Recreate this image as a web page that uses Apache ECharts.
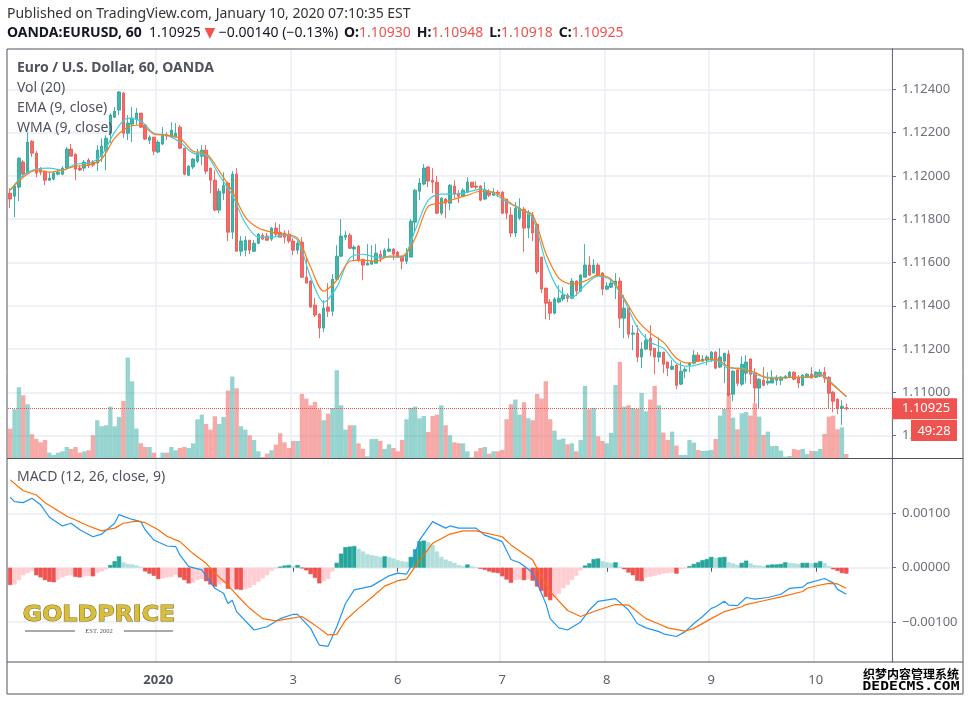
<!DOCTYPE html>
<html>
<head>
<meta charset="utf-8">
<title>EUR/USD 60</title>
<style>
    html, body { margin: 0; padding: 0; background: #fff; }
    #chart-container { width: 971px; height: 702px; }
</style>
<script src="https://cdn.jsdelivr.net/npm/echarts@6/dist/echarts.min.js"></script>
</head>
<body>
<div id="chart-container"></div>
<script>
// hourly bars, [open, close, low, high]
var candles = [
    [1.11920,1.11893,1.11851,1.11943],[1.11906,1.11953,1.11810,1.11957],[1.11948,1.12082,1.11883,1.12085],[1.12064,1.12008,1.11994,1.12073],[1.12013,1.12156,1.12010,1.12202],
    [1.12160,1.12105,1.12087,1.12165],[1.12105,1.12013,1.11994,1.12114],[1.12031,1.12017,1.12003,1.12041],[1.12022,1.11980,1.11957,1.12024],[1.11980,1.11990,1.11976,1.12017],
    [1.11985,1.12013,1.11980,1.12017],[1.12008,1.12017,1.12003,1.12031],[1.12008,1.12036,1.12003,1.12045],[1.12036,1.12124,1.12027,1.12133],[1.12124,1.12091,1.12091,1.12147],
    [1.12100,1.12031,1.11980,1.12105],[1.12036,1.12027,1.12022,1.12050],[1.12036,1.12064,1.12022,1.12073],[1.12073,1.12050,1.12036,1.12082],[1.12064,1.12050,1.12041,1.12073],
    [1.12059,1.12119,1.12022,1.12142],[1.12091,1.12138,1.12064,1.12174],[1.12119,1.12174,1.12027,1.12188],[1.12197,1.12281,1.12151,1.12290],[1.12271,1.12299,1.12267,1.12318],
    [1.12304,1.12387,1.12281,1.12392],[1.12382,1.12197,1.12174,1.12387],[1.12197,1.12244,1.12165,1.12281],[1.12239,1.12267,1.12156,1.12318],[1.12262,1.12290,1.12235,1.12313],
    [1.12290,1.12225,1.12221,1.12290],[1.12235,1.12170,1.12165,1.12235],[1.12165,1.12179,1.12147,1.12188],[1.12179,1.12114,1.12096,1.12179],[1.12110,1.12156,1.12105,1.12165],
    [1.12147,1.12188,1.12142,1.12225],[1.12188,1.12184,1.12165,1.12202],[1.12179,1.12211,1.12179,1.12248],[1.12179,1.12197,1.12179,1.12244],[1.12225,1.12128,1.12124,1.12235],
    [1.12128,1.12008,1.12003,1.12128],[1.12003,1.12045,1.11999,1.12050],[1.12041,1.12078,1.12031,1.12082],[1.12068,1.12105,1.12059,1.12124],[1.12091,1.12119,1.12050,1.12142],
    [1.12119,1.12022,1.12008,1.12142],[1.12036,1.11980,1.11920,1.12036],[1.11980,1.11842,1.11837,1.12027],[1.11842,1.11929,1.11828,1.11943],[1.11920,1.11957,1.11888,1.12017],
    [1.11967,1.11740,1.11699,1.11972],[1.11740,1.12008,1.11708,1.12022],[1.12008,1.11652,1.11652,1.12036],[1.11652,1.11699,1.11629,1.11722],[1.11657,1.11703,1.11629,1.11722],
    [1.11703,1.11657,1.11638,1.11703],[1.11652,1.11689,1.11648,1.11703],[1.11689,1.11731,1.11685,1.11736],[1.11726,1.11708,1.11703,1.11736],[1.11722,1.11703,1.11699,1.11736],
    [1.11708,1.11759,1.11699,1.11763],[1.11759,1.11731,1.11717,1.11786],[1.11740,1.11717,1.11717,1.11777],[1.11736,1.11717,1.11689,1.11749],[1.11731,1.11699,1.11689,1.11749],
    [1.11699,1.11657,1.11634,1.11712],[1.11657,1.11689,1.11638,1.11699],[1.11694,1.11532,1.11528,1.11717],[1.11532,1.11505,1.11505,1.11625],[1.11514,1.11394,1.11390,1.11518],
    [1.11403,1.11357,1.11348,1.11436],[1.11361,1.11297,1.11250,1.11366],[1.11297,1.11389,1.11278,1.11426],[1.11394,1.11375,1.11348,1.11505],[1.11375,1.11523,1.11352,1.11546],
    [1.11523,1.11629,1.11518,1.11680],[1.11629,1.11722,1.11625,1.11800],[1.11717,1.11726,1.11703,1.11745],[1.11726,1.11666,1.11662,1.11736],[1.11662,1.11671,1.11611,1.11680],
    [1.11675,1.11611,1.11602,1.11680],[1.11615,1.11588,1.11518,1.11615],[1.11588,1.11597,1.11588,1.11685],[1.11592,1.11606,1.11592,1.11680],[1.11597,1.11643,1.11597,1.11685],
    [1.11638,1.11620,1.11602,1.11657],[1.11625,1.11657,1.11620,1.11666],[1.11652,1.11662,1.11648,1.11712],[1.11662,1.11638,1.11611,1.11666],[1.11648,1.11625,1.11620,1.11652],
    [1.11625,1.11606,1.11569,1.11629],[1.11606,1.11643,1.11592,1.11666],[1.11625,1.11791,1.11625,1.11800],[1.11786,1.11934,1.11736,1.11939],[1.11929,1.11967,1.11888,1.11990],
    [1.11962,1.12036,1.11957,1.12055],[1.12041,1.11976,1.11948,1.12045],[1.11980,1.11971,1.11920,1.12036],[1.11971,1.11828,1.11823,1.12000],[1.11828,1.11897,1.11819,1.11902],
    [1.11893,1.11874,1.11805,1.11897],[1.11874,1.11957,1.11842,1.11962],[1.11953,1.11916,1.11897,1.11980],[1.11920,1.11906,1.11874,1.11934],[1.11906,1.11934,1.11902,1.11943],
    [1.11925,1.11971,1.11920,1.11994],[1.11971,1.11948,1.11943,1.11971],[1.11953,1.11948,1.11939,1.11976],[1.11953,1.11888,1.11883,1.11957],[1.11893,1.11934,1.11888,1.11971],
    [1.11929,1.11911,1.11902,1.11939],[1.11911,1.11925,1.11906,1.11943],[1.11925,1.11920,1.11902,1.11934],[1.11925,1.11828,1.11823,1.11929],[1.11893,1.11828,1.11800,1.11893],
    [1.11819,1.11736,1.11717,1.11856],[1.11736,1.11851,1.11717,1.11879],[1.11805,1.11851,1.11796,1.11897],[1.11846,1.11759,1.11648,1.11856],[1.11759,1.11828,1.11712,1.11842],
    [1.11819,1.11736,1.11699,1.11833],[1.11777,1.11556,1.11546,1.11782],[1.11625,1.11477,1.11458,1.11625],[1.11482,1.11412,1.11338,1.11482],[1.11417,1.11366,1.11334,1.11431],
    [1.11366,1.11431,1.11361,1.11440],[1.11417,1.11435,1.11412,1.11495],[1.11431,1.11449,1.11421,1.11486],[1.11449,1.11435,1.11417,1.11458],[1.11435,1.11514,1.11431,1.11528],
    [1.11514,1.11468,1.11445,1.11518],[1.11468,1.11542,1.11463,1.11546],[1.11532,1.11588,1.11532,1.11685],[1.11588,1.11542,1.11537,1.11629],[1.11551,1.11588,1.11551,1.11615],
    [1.11588,1.11542,1.11532,1.11597],[1.11551,1.11477,1.11449,1.11556],[1.11477,1.11491,1.11472,1.11509],[1.11486,1.11505,1.11482,1.11523],[1.11495,1.11514,1.11431,1.11551],
    [1.11514,1.11343,1.11297,1.11532],[1.11343,1.11389,1.11250,1.11449],[1.11389,1.11269,1.11250,1.11389],[1.11269,1.11274,1.11195,1.11311],[1.11274,1.11163,1.11140,1.11311],
    [1.11163,1.11200,1.11112,1.11232],[1.11200,1.11241,1.11195,1.11269],[1.11250,1.11195,1.11167,1.11311],[1.11204,1.11163,1.11084,1.11204],[1.11163,1.11186,1.11140,1.11255],
    [1.11186,1.11130,1.11089,1.11186],[1.11140,1.11112,1.11075,1.11140],[1.11107,1.11121,1.11103,1.11149],[1.11126,1.11033,1.11015,1.11130],[1.11038,1.11098,1.11033,1.11140],
    [1.11098,1.11107,1.11066,1.11117],[1.11126,1.11135,1.11093,1.11140],[1.11135,1.11172,1.11130,1.11195],[1.11172,1.11144,1.11140,1.11186],[1.11144,1.11154,1.11140,1.11172],
    [1.11149,1.11163,1.11126,1.11172],[1.11149,1.11186,1.11140,1.11191],[1.11186,1.11112,1.11107,1.11191],[1.11117,1.11163,1.11112,1.11204],[1.11144,1.11181,1.11042,1.11181],
    [1.11177,1.10987,1.10982,1.11195],[1.10992,1.11098,1.10959,1.11103],[1.11103,1.11042,1.11029,1.11112],[1.11038,1.11130,1.11029,1.11167],[1.11089,1.11140,1.11042,1.11172],
    [1.11154,1.11084,1.11038,1.11158],[1.11089,1.11020,1.10950,1.11112],[1.11020,1.11061,1.10927,1.11066],[1.11056,1.11033,1.11029,1.11117],[1.11043,1.11052,1.11033,1.11093],
    [1.11043,1.11066,1.11043,1.11103],[1.11056,1.11066,1.11033,1.11080],[1.11056,1.11070,1.11033,1.11075],[1.11066,1.11075,1.11061,1.11080],[1.11070,1.11093,1.11066,1.11098],
    [1.11093,1.11061,1.11056,1.11098],[1.11070,1.11043,1.11020,1.11080],[1.11033,1.11080,1.11029,1.11084],[1.11070,1.11084,1.11066,1.11089],[1.11084,1.11066,1.11066,1.11117],
    [1.11070,1.11093,1.11066,1.11098],[1.11075,1.11093,1.11070,1.11107],[1.11093,1.11066,1.11043,1.11117],[1.11070,1.10996,1.10927,1.11075],[1.11001,1.10959,1.10908,1.11006],
    [1.10968,1.10927,1.10900,1.10973],[1.10927,1.10936,1.10850,1.10964],[1.10930,1.10925,1.10918,1.10948]
]
var volumes = [
    89,147,213,189,162,72,58,48,55,17,
    10,17,21,34,28,34,17,21,24,69,
    114,96,99,155,96,124,172,302,231,89,
    45,34,34,17,2,17,17,34,24,31,
    34,31,45,117,131,103,86,126,103,124,
    203,245,210,96,86,69,55,21,4,14,
    24,41,75,48,31,52,52,193,179,159,
    169,147,114,134,151,264,159,86,99,99,
    45,28,6,58,58,52,28,42,31,21,
    55,117,151,155,120,127,79,127,131,159,
    99,69,48,45,45,21,3,21,31,34,
    14,21,21,25,117,162,176,131,168,120,
    114,193,179,231,117,83,56,59,42,45,
    21,55,217,147,151,66,52,45,76,220,
    289,155,159,151,148,196,141,176,217,159,
    77,55,80,38,10,10,55,47,25,22,
    23,25,58,128,148,195,122,87,135,139,
    128,165,125,70,80,37,37,23,5,7,
    28,25,28,13,22,22,28,73,125,128,
    87,93,13
]
// moving averages were read every third bar
var maBars = []
for (var b = 0; b <= 192; b += 3) maBars.push(b)
var ema = [
    1.11934,1.11994,1.12027,1.12017,1.12027,1.12045,1.12050,1.12078,1.12174,1.12225,
    1.12235,1.12193,1.12188,1.12174,1.12114,1.12105,1.12022,1.11929,1.11810,1.11759,
    1.11740,1.11731,1.11712,1.11578,1.11468,1.11518,1.11606,1.11611,1.11606,1.11629,
    1.11629,1.11712,1.11860,1.11874,1.11893,1.11911,1.11929,1.11925,1.11888,1.11846,
    1.11819,1.11643,1.11528,1.11500,1.11514,1.11542,1.11523,1.11435,1.11334,1.11274,
    1.11232,1.11158,1.11135,1.11149,1.11154,1.11117,1.11107,1.11093,1.11066,1.11066,
    1.11070,1.11070,1.11080,1.11033,1.10982
]
var wma = [
    1.11934,1.12003,1.12031,1.12036,1.12027,1.12055,1.12059,1.12096,1.12202,1.12267,
    1.12253,1.12197,1.12188,1.12156,1.12105,1.12096,1.12003,1.11911,1.11782,1.11717,
    1.11717,1.11726,1.11703,1.11532,1.11417,1.11486,1.11620,1.11638,1.11625,1.11625,
    1.11625,1.11749,1.11888,1.11916,1.11916,1.11925,1.11939,1.11920,1.11879,1.11851,
    1.11805,1.11602,1.11472,1.11440,1.11495,1.11537,1.11518,1.11426,1.11301,1.11232,
    1.11204,1.11135,1.11121,1.11135,1.11149,1.11112,1.11112,1.11084,1.11070,1.11070,
    1.11070,1.11070,1.11084,1.11038,1.10978
]
// the MACD pane lines were read at their turning points
var macdBars = [
    0,1,3,5,7,9,12,14,16,19,
    21,24,25,28,30,31,33,36,38,39,
    41,44,47,49,50,51,52,56,59,62,
    65,66,69,71,73,75,77,79,83,87,
    89,91,92,94,97,100,101,103,107,109,
    113,115,117,119,120,123,124,126,128,131,
    133,135,139,142,144,146,149,150,153,155,
    157,159,161,162,164,165,167,169,171,174,
    177,179,182,183,187,189,190,192
]
var macdLine = [
    0.00130,0.00122,0.00120,0.00128,0.00116,0.00093,0.00077,0.00082,0.00070,0.00057,
    0.00062,0.00082,0.00098,0.00089,0.00085,0.00070,0.00051,0.00040,0.00039,0.00023,
    0.00002,-0.00004,-0.00038,-0.00047,-0.00066,-0.00060,-0.00081,-0.00115,-0.00109,-0.00094,
    -0.00086,-0.00086,-0.00112,-0.00143,-0.00145,-0.00109,-0.00066,-0.00041,-0.00034,-0.00015,
    -0.00010,-0.00012,0.00002,0.00051,0.00085,0.00073,0.00077,0.00073,0.00073,0.00060,
    0.00048,0.00015,0.00009,-0.00003,-0.00010,-0.00066,-0.00094,-0.00111,-0.00115,-0.00100,
    -0.00078,-0.00062,-0.00057,-0.00078,-0.00103,-0.00111,-0.00118,-0.00122,-0.00127,-0.00118,
    -0.00103,-0.00090,-0.00075,-0.00072,-0.00062,-0.00069,-0.00070,-0.00055,-0.00058,-0.00055,
    -0.00049,-0.00038,-0.00036,-0.00029,-0.00020,-0.00028,-0.00040,-0.00049
]
var signalBars = [
    0,3,6,8,11,13,15,18,21,24,
    26,29,31,34,36,39,42,45,47,50,
    52,55,58,61,64,67,70,73,75,77,
    80,83,86,89,91,93,97,101,104,107,
    113,115,120,121,124,128,131,135,139,142,
    146,149,151,155,157,161,164,168,169,173,
    177,182,183,186,188,190,192
]
var signalLine = [
    0.00162,0.00142,0.00134,0.00120,0.00105,0.00095,0.00088,0.00077,0.00068,0.00073,
    0.00082,0.00086,0.00083,0.00070,0.00058,0.00048,0.00026,0.00008,-0.00010,-0.00032,
    -0.00050,-0.00075,-0.00094,-0.00098,-0.00094,-0.00090,-0.00106,-0.00124,-0.00123,-0.00097,
    -0.00075,-0.00055,-0.00034,-0.00024,-0.00021,0.00002,0.00045,0.00062,0.00068,0.00068,
    0.00057,0.00042,0.00014,-0.00001,-0.00044,-0.00079,-0.00090,-0.00078,-0.00068,-0.00069,
    -0.00094,-0.00104,-0.00111,-0.00117,-0.00112,-0.00094,-0.00081,-0.00072,-0.00068,-0.00061,
    -0.00054,-0.00044,-0.00038,-0.00032,-0.00029,-0.00030,-0.00038
]
var macdHist = [
    -0.00032,-0.00031,-0.00023,-0.00014,-0.00010,-0.00006,-0.00014,-0.00018,-0.00023,-0.00026,
    -0.00027,-0.00022,-0.00018,-0.00015,-0.00014,-0.00017,-0.00018,-0.00016,-0.00015,-0.00016,
    -0.00010,-0.00007,-0.00003,0.00005,0.00012,0.00021,0.00010,0.00007,0.00006,0.00004,
    0.00001,-0.00007,-0.00011,-0.00015,-0.00021,-0.00020,-0.00018,-0.00017,-0.00013,-0.00018,
    -0.00023,-0.00029,-0.00028,-0.00023,-0.00021,-0.00025,-0.00031,-0.00035,-0.00031,-0.00028,
    -0.00039,-0.00036,-0.00040,-0.00041,-0.00040,-0.00037,-0.00032,-0.00026,-0.00020,-0.00014,
    -0.00006,-0.00001,0.00002,0.00004,0.00005,0.00003,0.00005,-0.00001,-0.00005,-0.00012,
    -0.00019,-0.00029,-0.00025,-0.00021,-0.00007,0.00009,0.00026,0.00038,0.00039,0.00040,
    0.00035,0.00030,0.00025,0.00023,0.00022,0.00020,0.00021,0.00020,0.00017,0.00014,
    0.00012,0.00011,0.00020,0.00034,0.00049,0.00050,0.00047,0.00042,0.00030,0.00020,
    0.00015,0.00012,0.00009,0.00005,0.00003,0.00006,0.00003,0.00001,-0.00002,-0.00004,
    -0.00007,-0.00009,-0.00010,-0.00016,-0.00022,-0.00028,-0.00023,-0.00022,-0.00023,-0.00022,
    -0.00024,-0.00035,-0.00043,-0.00054,-0.00060,-0.00055,-0.00048,-0.00038,-0.00032,-0.00023,
    -0.00015,-0.00005,0.00004,0.00008,0.00016,0.00017,0.00012,0.00010,0.00009,0.00010,
    0.00002,-0.00003,-0.00009,-0.00014,-0.00024,-0.00025,-0.00018,-0.00017,-0.00015,-0.00013,
    -0.00011,-0.00010,-0.00009,-0.00011,-0.00003,-0.00001,0.00003,0.00007,0.00010,0.00014,
    0.00016,0.00020,0.00018,0.00019,0.00020,0.00010,0.00008,0.00005,0.00009,0.00013,
    0.00008,0.00005,0.00004,0.00003,0.00005,0.00006,0.00006,0.00007,0.00010,0.00009,
    0.00008,0.00007,0.00009,0.00009,0.00008,0.00009,0.00012,0.00009,0.00003,-0.00003,
    -0.00006,-0.00010,-0.00011
]
var priceTicks = [1.124, 1.122, 1.12, 1.118, 1.116, 1.114, 1.112, 1.11, 1.108]
var macdTicks = [0.001, 0, -0.001]
var lastPrice = 1.10925
// day labels sit on these bars, the chart also has room for empty bars on the right
var dayBars = [34, 65, 89, 113, 137, 161, 185]
var dayNames = ['2020', '3', '6', '7', '8', '9', '10']
var barCount = 203

var categories = []
for (var i = 0; i < barCount; i++) {
    var d = dayBars.indexOf(i)
    categories.push(d > -1 ? dayNames[d] : '')
}

var upColor = '#26a69a'
var downColor = '#ef5350'
var textColor = '#50535e'
var lineColor = '#e8eef4'
var sans = '"Noto Sans", sans-serif'

function onDay(index, value) {
    return value !== ''
}

function yLabel(value) {
    return value.toFixed(5).replace('-', '\u2212')
}

function isUp(i) {
    return candles[i][1] >= candles[i][0]
}

function lineData(bars, values) {
    return values.map(function (v, k) {
        return [bars[k], v]
    })
}

// dark while the histogram moves away from zero, light when it comes back
function histColor(i) {
    var v = macdHist[i]
    var prev = i > 0 ? macdHist[i - 1] : 0
    if (v >= 0) return v >= prev ? '#26a69a' : '#b2dfdb'
    return v <= prev ? '#ef5350' : '#ffcdd2'
}

function label(x, y, text, bold) {
    return {
        type: 'text', x: x, y: y, z: 50,
        style: { text: text, fill: textColor, font: (bold ? 'bold ' : '') + '14px ' + sans, textVerticalAlign: 'middle' }
    }
}

function rule(x1, y1, x2, y2, color, width) {
    return {
        type: 'line', z: 40, silent: true,
        shape: { x1: x1, y1: y1, x2: x2, y2: y2 },
        style: { stroke: color, lineWidth: width }
    }
}

var dom = document.getElementById('chart-container')
var myChart = echarts.init(dom, null, { renderer: 'canvas', width: 971, height: 702 })

var option = {
    animation: false,
    backgroundColor: '#fff',
    grid: [
        { left: 8, width: 884, top: 49, height: 409.3, containLabel: false },
        { left: 8, width: 884, top: 458.3, height: 203.7, containLabel: false }
    ],
    xAxis: [{
        type: 'category', gridIndex: 0, data: categories, boundaryGap: true,
        axisLine: { show: false }, axisTick: { show: false }, axisLabel: { show: false },
        splitLine: { show: true, interval: onDay, lineStyle: { color: lineColor, width: 1.5 } }
    }, {
        type: 'category', gridIndex: 1, data: categories, boundaryGap: true,
        axisLine: { show: false },
        axisTick: { show: true, alignWithLabel: true, interval: onDay, length: 4, lineStyle: { color: textColor } },
        axisLabel: {
            show: true, interval: onDay, margin: 12, color: '#5d606b', fontFamily: sans, fontSize: 13,
            formatter: function (v) { return v === '2020' ? '{b|2020}' : v },
            rich: { b: { fontWeight: 'bold', color: textColor, fontFamily: sans, fontSize: 13 } }
        },
        splitLine: { show: true, interval: onDay, lineStyle: { color: lineColor, width: 1.5 } }
    }],
    yAxis: [{
        type: 'value', gridIndex: 0, position: 'right', min: 1.106956, max: 1.125861,
        axisLine: { show: true, lineStyle: { color: '#6a6d78' } },
        axisTick: { show: true, length: 4, customValues: priceTicks, lineStyle: { color: '#6a6d78' } },
        axisLabel: { customValues: priceTicks, margin: 10, color: '#6e7079', fontFamily: sans, fontSize: 13, formatter: yLabel },
        splitLine: { show: true, lineStyle: { color: lineColor, width: 1.5 } }
    }, {
        type: 'value', gridIndex: 0, min: 0, max: 1227, show: false
    }, {
        type: 'value', gridIndex: 1, position: 'right', min: -0.00174, max: 0.002018,
        axisLine: { show: true, lineStyle: { color: '#6a6d78' } },
        axisTick: { show: true, length: 4, customValues: macdTicks, lineStyle: { color: '#6a6d78' } },
        axisLabel: { customValues: macdTicks, margin: 10, color: '#6e7079', fontFamily: sans, fontSize: 13, formatter: yLabel },
        splitLine: { show: true, lineStyle: { color: lineColor, width: 1.5 } }
    }],
    series: [{
        name: 'Vol', type: 'bar', xAxisIndex: 0, yAxisIndex: 1, data: volumes,
        barWidth: '100%', silent: true, z: 1,
        itemStyle: {
            color: function (params) {
                return isUp(params.dataIndex) ? 'rgba(38,166,154,0.48)' : 'rgba(239,83,80,0.5)'
            }
        }
    }, {
        name: 'EURUSD', type: 'candlestick', xAxisIndex: 0, yAxisIndex: 0, data: candles,
        barWidth: 3, silent: true, z: 3,
        itemStyle: { color: upColor, color0: downColor, borderColor: upColor, borderColor0: downColor, borderWidth: 1, opacity: 0.85 },
        markLine: {
            silent: true, symbol: 'none', precision: 5,
            lineStyle: { color: downColor, type: 'dotted', width: 1 },
            label: {
                position: 'end', distance: 0, formatter: '1.10925', color: '#fff', fontFamily: sans, fontSize: 13,
                backgroundColor: downColor, padding: [4, 7, 4, 10]
            },
            data: [{ yAxis: lastPrice }]
        }
    }, {
        name: 'WMA', type: 'line', xAxisIndex: 0, yAxisIndex: 0, data: lineData(maBars, wma),
        showSymbol: false, silent: true, z: 4, smooth: 0.3, lineStyle: { color: '#3ccfe0', width: 1.2 }
    }, {
        name: 'EMA', type: 'line', xAxisIndex: 0, yAxisIndex: 0, data: lineData(maBars, ema),
        showSymbol: false, silent: true, z: 5, smooth: 0.3, lineStyle: { color: '#ff7b15', width: 1.2 }
    }, {
        name: 'Histogram', type: 'bar', xAxisIndex: 1, yAxisIndex: 2,
        data: macdHist.map(function (v, k) {
            var c = histColor(k)
            return { value: v, itemStyle: { color: c, borderColor: c, borderWidth: 0.6 } }
        }),
        barWidth: '100%', silent: true, z: 1
    }, {
        name: 'MACD', type: 'line', xAxisIndex: 1, yAxisIndex: 2, data: lineData(macdBars, macdLine),
        showSymbol: false, silent: true, z: 4, lineStyle: { color: '#2196f3', width: 1.2 }
    }, {
        name: 'Signal', type: 'line', xAxisIndex: 1, yAxisIndex: 2, data: lineData(signalBars, signalLine),
        showSymbol: false, silent: true, z: 5, lineStyle: { color: '#ff6d00', width: 1.2 }
    }],
    graphic: [
        // page header
        {
            type: 'text', x: 7, y: 14, z: 50,
            style: { text: 'Published on TradingView.com, January 10, 2020 07:10:35 EST', fill: '#333', font: '14px ' + sans, textVerticalAlign: 'middle' }
        },
        {
            type: 'text', x: 7, y: 33, z: 50,
            style: {
                textVerticalAlign: 'middle', font: '14px ' + sans, fill: '#131722',
                rich: {
                    sym: { font: 'bold 14px ' + sans, fill: '#131722' },
                    red: { font: '14px ' + sans, fill: downColor },
                    tri: { font: '14px "DejaVu Sans", sans-serif', fill: downColor },
                    k: { font: 'bold 14px ' + sans, fill: '#131722' }
                },
                text: '{sym|OANDA:EURUSD, 60}  1.10925 {tri|\u25BC} \u22120.00140 (\u22120.13%)\u2009 {k|O:}{red|1.10930}\u2009 {k|H:}{red|1.10948}\u2009 {k|L:}{red|1.10918}\u2009 {k|C:}{red|1.10925}'
            }
        },
        // pane legends
        label(17, 68, 'Euro / U.S. Dollar, 60, OANDA', true),
        label(17, 88, 'Vol (20)'),
        label(17, 108, 'EMA (9, close)'),
        label(17, 128, 'WMA (9, close)'),
        label(17, 477, 'MACD (12, 26, close, 9)'),
        // frame and pane separators
        rule(7, 49, 963, 49, textColor, 1),
        rule(7, 49, 7, 694, textColor, 1),
        rule(963, 49, 963, 694, textColor, 1),
        rule(7, 694, 963, 694, textColor, 1),
        rule(7, 458.5, 963, 458.5, textColor, 1),
        rule(7, 662, 963, 662, textColor, 1),
        // countdown under the price tag
        {
            type: 'rect', z: 60, silent: true,
            shape: { x: 911, y: 420, width: 46, height: 21 },
            style: { fill: downColor }
        },
        {
            type: 'text', x: 934, y: 431, z: 61,
            style: { text: '49:28', fill: '#fff', font: '13px ' + sans, textAlign: 'center', textVerticalAlign: 'middle' }
        },
        // logo
        {
            type: 'text', x: 99, y: 616, z: 50, scaleX: 1.13,
            style: { text: 'GOLDPRICE', fill: '#d9bd3c', stroke: '#7c6a18', lineWidth: 1, font: 'bold 21px "DejaVu Sans", sans-serif', textAlign: 'center', textVerticalAlign: 'middle' }
        },
        {
            type: 'text', x: 99, y: 631, z: 50,
            style: { text: 'EST. 2002', fill: '#555', font: '6.5px "Liberation Serif", serif', textAlign: 'center', textVerticalAlign: 'middle' }
        },
        rule(25, 631, 75, 631, '#8c8c8c', 1.5),
        rule(124, 631, 173, 631, '#8c8c8c', 1.5),
        // site stamp
        {
            type: 'text', x: 911, y: 674, z: 70,
            style: { text: '\u7EC7\u68A6\u5185\u5BB9\u7BA1\u7406\u7CFB\u7EDF', fill: '#000', stroke: '#fff', lineWidth: 2.5, font: 'bold 12px "Noto Sans CJK SC", sans-serif', textAlign: 'center', textVerticalAlign: 'middle' }
        },
        {
            type: 'text', x: 911, y: 687, z: 70, scaleX: 1.22,
            style: { text: 'DEDECMS.COM', fill: '#000', stroke: '#fff', lineWidth: 2.5, font: 'bold 12px "DejaVu Sans Mono", monospace', textAlign: 'center', textVerticalAlign: 'middle' }
        }
    ]
}

myChart.setOption(option)
</script>
</body>
</html>
